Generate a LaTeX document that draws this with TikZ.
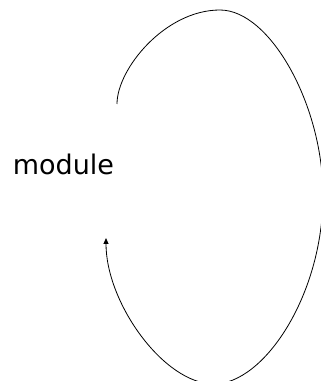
\documentclass[tikz,border=0pt]{standalone}
\usepackage{fontspec}
\setmainfont{DejaVu Sans}
\usetikzlibrary{arrows.meta,calc}
\begin{document}
\begin{tikzpicture}[x=1pt,y=1pt,
  label/.style={inner sep=0pt,font=\fontsize{27}{32}\selectfont},
  loop/.style={line width=0.8pt,-{Triangle[length=6pt,width=5pt]}}]
\useasboundingbox (0,0) rectangle (321,381);
\clip (0,0) rectangle (321,381);
\node[label,anchor=base] (m) at (63.5,206) {module};
\coordinate (s) at (117,277);
\coordinate (t) at (220,371);
\coordinate (r) at (323,186);
\coordinate (b) at (214,-3);
\coordinate (e) at (106,143);
\draw[loop] (s) .. controls ($(s)+(0,35)$) and ($(t)+(-55,0)$) .. (t)
  .. controls ($(t)+(50,0)$) and ($(r)+(0,90)$) .. (r)
  .. controls ($(r)+(0,-100)$) and ($(b)+(50,0)$) .. (b)
  .. controls ($(b)+(-50,0)$) and ($(e)+(0,-65)$) .. (e);
\end{tikzpicture}
\end{document}
